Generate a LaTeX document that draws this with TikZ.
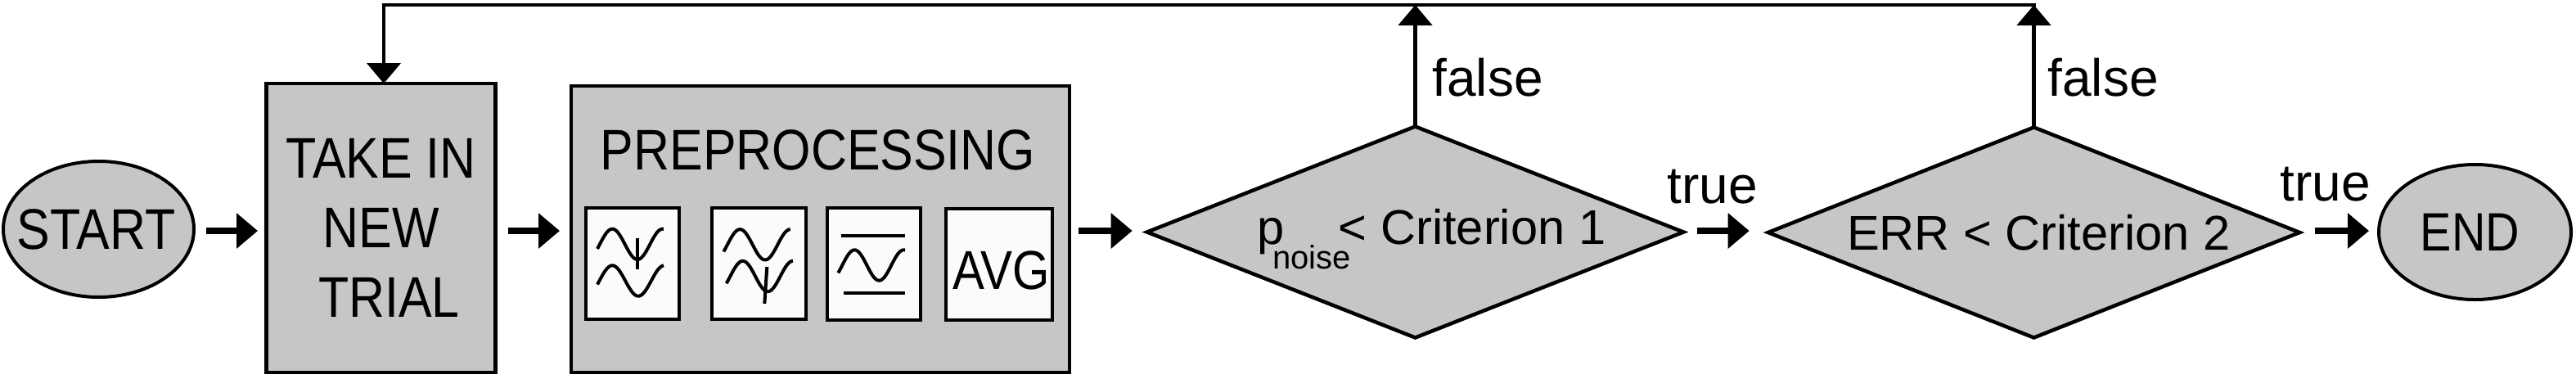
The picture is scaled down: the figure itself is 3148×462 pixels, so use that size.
\documentclass[tikz,border=0pt]{standalone}
\usepackage{fontspec}
\setmainfont{Liberation Sans}
\newfontfamily\condfont[FakeStretch=0.87]{Liberation Sans}
\usetikzlibrary{shapes.geometric,arrows.meta}
\definecolor{boxgrey}{RGB}{198,198,198}
\definecolor{iconwhite}{RGB}{251,251,251}
% x0, x1, x of crest, mid-line y, half period (all in px)
\newcommand{\myWave}[5]{%
  \draw[wave] plot[domain=#1:#2,samples=50,smooth] (\x,{#4-18.7*cos(180*(\x-#3)/#5)});}
\begin{document}
\begin{tikzpicture}[x=0.5pt,y=-0.5pt,
  greyshape/.style={draw, fill=boxgrey, line width=2.25pt, inner sep=0pt, outer sep=0pt},
  terminal/.style={greyshape, ellipse, line width=2pt},
  procbox/.style={greyshape, rectangle},
  decision/.style={greyshape, diamond, shape aspect=2.54},
  iconbox/.style={draw, fill=iconwhite, line width=2pt, rectangle, inner sep=0pt, outer sep=0pt},
  boxfont/.style={font=\condfont\fontsize{35pt}{42.5pt}\selectfont},
  decfont/.style={font=\fontsize{29.8pt}{36pt}\selectfont},
  flowarrow/.style={line width=4pt, -{Triangle[length=13pt,width=21pt]}},
  looparrow/.style={line width=2.3pt, -{Triangle[length=12.5pt,width=20.5pt]}},
  wave/.style={line width=2pt},
  lbl/.style={font=\fontsize{32pt}{38pt}\selectfont, inner sep=0pt, anchor=base west}]
\useasboundingbox (0,0) rectangle (3148,462);

% main nodes
\node[terminal, boxfont, minimum width=116.5pt, minimum height=83pt] (start) at (120.5,280) {\makebox[0pt]{START\hspace*{3pt}}};
\node[procbox, boxfont, align=center, minimum width=140pt, minimum height=176.5pt] (take) at (465.5,278.5) {TAKE IN\\NEW\hspace*{11pt}\\\hspace*{10pt}TRIAL};
\node[procbox, minimum width=304.5pt, minimum height=175pt] (prep) at (1002.5,280) {};
\node[boxfont, inner sep=0pt, anchor=base] (preptitle) at (999.5,207) {PREPROCESSING};

% preprocessing icon boxes
\node[iconbox, minimum width=57pt, minimum height=67.7pt] (notchA) at (773.3,322) {};
\node[iconbox, minimum width=57.2pt, minimum height=67.7pt] (notchB) at (927.5,322) {};
\node[iconbox, minimum width=56.85pt, minimum height=68.2pt] (band) at (1067.9,322.5) {};
\node[iconbox, minimum width=65pt, minimum height=68pt] (avgbox) at (1221,322.5) {};
\node[font=\condfont\fontsize{33.5pt}{40pt}\selectfont, inner sep=0pt, anchor=base west] (avg) at (1164,353) {AVG};

% icon 1
\myWave{730}{811}{748.3}{298.35}{30.7}
\myWave{730}{811}{748.3}{343}{31.7}
\draw[wave] (779,291) -- (779,329);
% icon 2
\myWave{884.3}{965.7}{904.3}{298.85}{30.7}
\myWave{887.7}{969}{907.7}{337.5}{30.6}
\draw[wave] (937.3,326) -- (934.3,371);
% icon 3
\draw[wave] (1027.7,287.7) -- (1105.7,287.7);
\myWave{1024.3}{1106}{1044.3}{324}{30}
\draw[wave] (1031,358.3) -- (1105.7,358.3);

% decisions
\node[decision, decfont, minimum width=327.8pt, minimum height=129pt] (d1) at (1729.5,283.5)
  {\hspace*{20pt}p\kern-7.3pt\rlap{\raisebox{-15pt}[0pt][0pt]{\fontsize{20pt}{24pt}\selectfont noise}}\kern40.35pt< Criterion 1};
\node[decision, decfont, minimum width=324.8pt, minimum height=128.5pt] (d2) at (2485.5,284)
  {\hspace*{6pt}ERR < Criterion 2};
\node[terminal, font=\condfont\fontsize{33pt}{40pt}\selectfont, minimum width=117.5pt, minimum height=82.5pt] (end) at (3024.5,283.5) {\makebox[0pt]{END\hspace*{6pt}}};

% flow arrows
\coordinate (flowy) at (0,282);
\draw[flowarrow, shorten <=7.5pt, shorten >=5.25pt] (start.east |- flowy) -- (take.west |- flowy);
\draw[flowarrow, shorten <=7.75pt, shorten >=7pt] (take.east |- flowy) -- (prep.west |- flowy);
\draw[flowarrow, shorten <=5.5pt, shorten >=9pt] (prep.east |- flowy) -- (d1.west |- flowy);
\draw[flowarrow, shorten <=8.5pt, shorten >=11.5pt] (d1.east |- flowy) -- (d2.west |- flowy);
\draw[flowarrow, shorten <=9.5pt, shorten >=6pt] (d2.east |- flowy) -- (end.west |- flowy);

% loop back
\coordinate (loopL) at (469,6);
\draw[looparrow] (d1.north) -- (d1.north |- loopL);
\draw[looparrow] (d2.north) -- (d2.north |- loopL);
\draw[looparrow, line cap=rect] (d2.north |- loopL) -- (loopL) -- (loopL |- take.north);

% labels
\node[lbl] (f1) at (1750,117) {false};
\node[lbl] (f2) at (2502,117) {false};
\node[lbl] (t1) at (2037,248) {true};
\node[lbl] (t2) at (2786,245) {true};
\end{tikzpicture}
\end{document}
